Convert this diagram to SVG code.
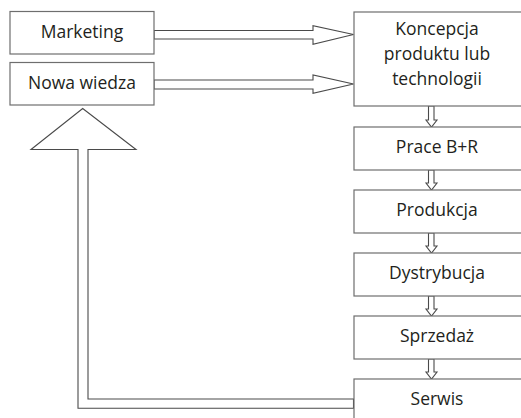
<svg xmlns="http://www.w3.org/2000/svg" width="521" height="418" viewBox="0 0 521 418">
  <style>
    .box { fill: #ffffff; stroke: #6e6e6e; stroke-width: 1.2; }
    .lbl { font-family: "Open Sans", "Noto Sans", sans-serif; font-size: 17.5px; fill: #231f20; text-anchor: middle; }
    .arr { fill: #ffffff; stroke: #4a4a4a; stroke-width: 1.1; stroke-linejoin: miter; }
  </style>
  <rect width="521" height="418" fill="#ffffff"/>

  <g id="connectors">
    <!-- Marketing -> Koncepcja -->
    <path class="arr" d="M154,30.5 H313 V25.7 L353.5,34.5 L313,44.3 V39 H154 Z"/>
    <!-- Nowa wiedza -> Koncepcja -->
    <path class="arr" d="M154,80 H313 V75 L353.5,84 L313,93.3 V89 H154 Z"/>
    <!-- Serwis feedback -> Nowa wiedza -->
    <path class="arr" d="M353.5,399 H88 V149.5 H136 L82.7,108.5 L31,149.5 H78 V408.3 H353.5 Z"/>
    <!-- downward flow between stages -->
    <path class="arr" d="M428.5,106 V120 H426 L431.5,127 L437,120 H434 V106 Z"/>
    <path class="arr" d="M428.5,170 V183 H426 L431.5,190 L437,183 H434 V170 Z"/>
    <path class="arr" d="M428.5,233 V246 H426 L431.5,253 L437,246 H434 V233 Z"/>
    <path class="arr" d="M428.5,296 V309 H426 L431.5,316 L437,309 H434 V296 Z"/>
    <path class="arr" d="M428.5,359 V372 H426 L431.5,379 L437,372 H434 V359 Z"/>
  </g>

  <g id="marketing">
    <rect class="box" x="10" y="11.5" width="144" height="42.5"/>
    <text class="lbl" x="82" y="38">Marketing</text>
  </g>
  <g id="nowa-wiedza">
    <rect class="box" x="10" y="62.5" width="144" height="42.5"/>
    <text class="lbl" x="82" y="88.5">Nowa wiedza</text>
  </g>
  <g id="koncepcja">
    <rect class="box" x="354" y="12" width="180" height="94"/>
    <text class="lbl" x="437" y="35">Koncepcja</text>
    <text class="lbl" x="437" y="60">produktu lub</text>
    <text class="lbl" x="437" y="84.5">technologii</text>
  </g>
  <g id="prace">
    <rect class="box" x="354" y="127" width="180" height="43"/>
    <text class="lbl" x="437" y="153">Prace B+R</text>
  </g>
  <g id="produkcja">
    <rect class="box" x="354" y="190" width="180" height="43"/>
    <text class="lbl" x="437" y="216">Produkcja</text>
  </g>
  <g id="dystrybucja">
    <rect class="box" x="354" y="253" width="180" height="43"/>
    <text class="lbl" x="437" y="278.5">Dystrybucja</text>
  </g>
  <g id="sprzedaz">
    <rect class="box" x="354" y="316" width="180" height="43"/>
    <text class="lbl" x="437" y="342">Sprzedaż</text>
  </g>
  <g id="serwis">
    <rect class="box" x="354" y="379" width="180" height="50"/>
    <text class="lbl" x="437" y="404.5">Serwis</text>
  </g>
</svg>
